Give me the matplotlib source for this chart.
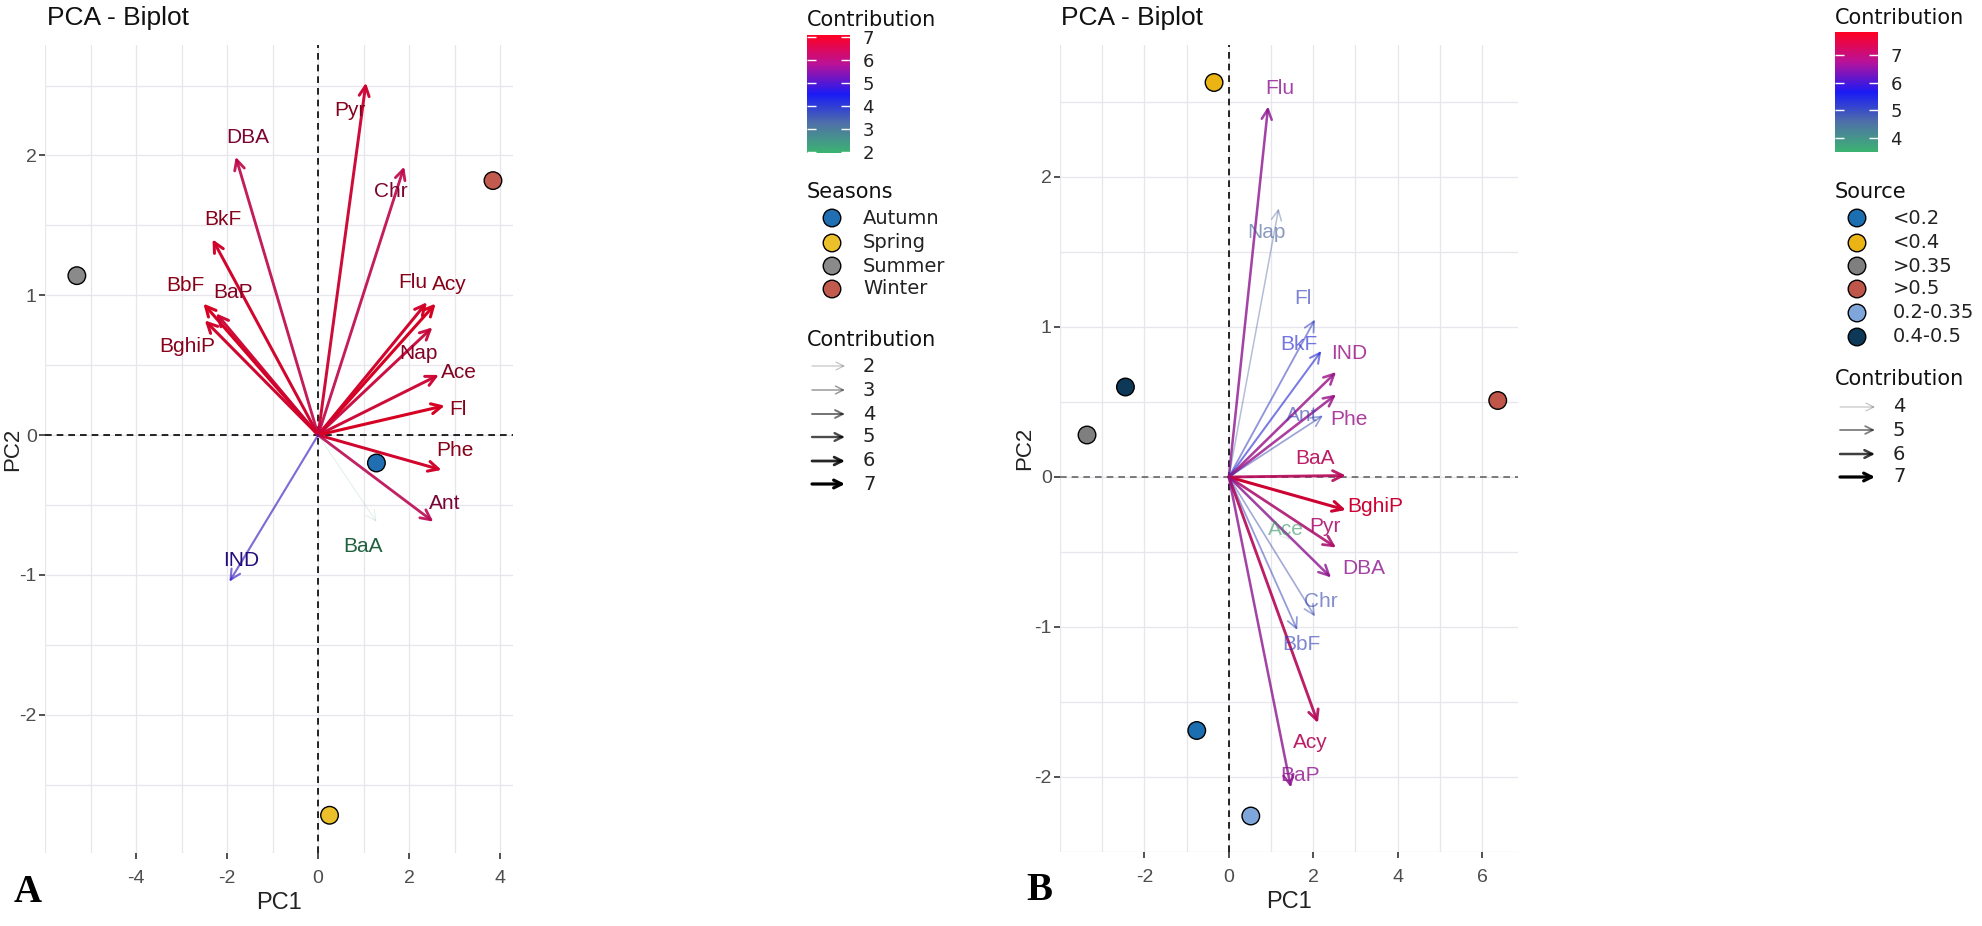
import numpy as np
import matplotlib
matplotlib.use('Agg')
import matplotlib.pyplot as plt
from matplotlib.colors import LinearSegmentedColormap, Normalize
from matplotlib.patches import FancyArrowPatch
import matplotlib.colorbar as mcolorbar

W, H = 1982, 926

# ---- panel A : seasons ----
varsA = ['Pyr', 'DBA', 'Chr', 'BkF', 'BbF', 'BaP', 'BghiP', 'Flu', 'Acy', 'Nap', 'Ace', 'Fl', 'Phe', 'Ant', 'BaA', 'IND']
pc1A = [1.05, -1.81, 1.89, -2.32, -2.52, -2.24, -2.49, 2.39, 2.58, 2.51, 2.65, 2.78, 2.71, 2.53, 1.28, -1.95]
pc2A = [2.52, 1.99, 1.92, 1.40, 0.94, 0.87, 0.82, 0.95, 0.94, 0.77, 0.43, 0.21, -0.25, -0.62, -0.62, -1.05]
contribA = [6.8, 6.5, 6.5, 6.9, 7.0, 6.8, 6.9, 6.9, 7.0, 6.7, 6.8, 7.0, 6.9, 6.4, 2.0, 4.8]
labxA = [0.70, -1.54, 1.60, -2.09, -2.92, -1.88, -2.88, 2.08, 2.89, 2.21, 3.10, 3.07, 3.01, 2.77, 0.99, -1.68]
labyA = [2.32, 2.13, 1.74, 1.54, 1.07, 1.02, 0.63, 1.09, 1.08, 0.58, 0.45, 0.18, -0.11, -0.49, -0.80, -0.90]

seasons = ['Autumn', 'Spring', 'Summer', 'Winter']
season_pc1 = [1.28, 0.25, -5.30, 3.84]
season_pc2 = [-0.20, -2.72, 1.14, 1.82]
season_cols = ['#1f6fb2', '#ecc02a', '#8a8a8a', '#c25a4e']

# ---- panel B : sources ----
varsB = ['Flu', 'Nap', 'Fl', 'BkF', 'IND', 'Phe', 'Ant', 'BaA', 'BghiP', 'Pyr', 'Ace', 'DBA', 'Chr', 'BbF', 'Acy', 'BaP']
pc1B = [0.93, 1.18, 2.04, 2.19, 2.54, 2.54, 2.23, 2.77, 2.77, 2.54, 1.45, 2.42, 2.04, 1.62, 2.11, 1.47]
pc2B = [2.47, 1.79, 1.05, 0.84, 0.70, 0.55, 0.41, 0.01, -0.22, -0.47, -0.42, -0.67, -0.93, -1.02, -1.64, -2.07]
contribB = [6.6, 4.7, 5.3, 5.6, 6.7, 6.7, 5.1, 7.2, 7.6, 7.0, 3.6, 6.6, 5.0, 5.2, 7.2, 6.6]
labxB = [1.21, 0.89, 1.75, 1.65, 2.84, 2.84, 1.73, 2.04, 3.47, 2.27, 1.34, 3.20, 2.19, 1.71, 1.92, 1.69]
labyB = [2.59, 1.63, 1.19, 0.88, 0.82, 0.38, 0.41, 0.12, -0.20, -0.33, -0.35, -0.61, -0.83, -1.12, -1.77, -1.99]

sources = ['<0.2', '<0.4', '>0.35', '>0.5', '0.2-0.35', '0.4-0.5']
source_pc1 = [-0.76, -0.35, -3.36, 6.37, 0.52, -2.45]
source_pc2 = [-1.69, 2.63, 0.28, 0.51, -2.26, 0.60]
source_cols = ['#1b6fb0', '#eab414', '#7f7f7f', '#c0554a', '#7fa6da', '#0d3858']

cmap = LinearSegmentedColormap.from_list(
    'contrib', ['#3cb371', '#4f70a8', '#1a1af5', '#b8129a', '#ff0022'])

plt.rcParams['font.family'] = ['Liberation Sans', 'DejaVu Sans']
plt.rcParams['axes.unicode_minus'] = False
LEGFONT = 'DejaVu Sans'

fig = plt.figure(figsize=(W / 100, H / 100), dpi=100)


def px_axes(x0, y0, x1, y1):
    return fig.add_axes([x0 / W, 1 - y1 / H, (x1 - x0) / W, (y1 - y0) / H])


def biplot(ax, xlim, ylim, xmaj, ymaj, names, px, py, contrib, lx, ly, crange,
           lrange, pts_x, pts_y, pts_c, dark_labels, hdash_col, ylab_x):
    ax.set_xlim(*xlim)
    ax.set_ylim(*ylim)
    ax.set_xticks(xmaj)
    ax.set_yticks(ymaj)
    ax.set_xticks(np.arange(np.floor(xlim[0]), xlim[1], 1.0), minor=True)
    ax.set_yticks(np.arange(np.floor(ylim[0]) + 0.5, ylim[1], 1.0), minor=True)
    ax.grid(which='both', color='#e6e6ec', lw=0.9)
    ax.set_axisbelow(True)
    for s in ax.spines.values():
        s.set_visible(False)
    ax.tick_params(which='major', length=4, color='#333333', labelcolor='#4d4d4d',
                   labelsize=14, width=1.2)
    ax.tick_params(axis='x', pad=8)
    ax.tick_params(axis='y', pad=2)
    ax.tick_params(which='minor', length=0)
    ax.axhline(0, color=hdash_col, ls=(0, (4, 3)), lw=1.2, zorder=1)
    ax.axvline(0, color='black', ls=(0, (4, 3)), lw=1.2, zorder=1)
    ax.set_xlabel('PC1', fontsize=17, color='#222222', labelpad=4)
    ax.set_ylabel('PC2', fontsize=16, color='#222222')
    ax.yaxis.set_label_coords(ylab_x, 0.5)

    norm = Normalize(*crange)
    lo, hi = lrange
    for n, x, y, c, tx, ty in zip(names, px, py, contrib, lx, ly):
        col = cmap(norm(c))
        acol = tuple(np.array(col[:3]) * 0.85)
        f = np.clip((c - lo) / (hi - lo), 0, 1)
        alpha = 0.15 + 0.85 * f
        lw = 0.7 + 1.5 * f
        arr = FancyArrowPatch((0, 0), (x, y), arrowstyle='->', mutation_scale=18,
                              color=acol, alpha=alpha, lw=lw, shrinkA=0, shrinkB=0,
                              zorder=3)
        ax.add_patch(arr)
        if dark_labels:
            tcol = tuple(np.array(col[:3]) * 0.55)
            talpha = 1.0
        else:
            tcol = acol
            talpha = max(0.6, alpha)
        ax.text(tx, ty, n, color=tcol, alpha=talpha, fontsize=15, ha='center',
                va='center', zorder=4)

    ax.scatter(pts_x, pts_y, s=160, c=pts_c, edgecolors='black', linewidths=1.0,
               zorder=5)


axA = px_axes(45, 45, 513, 853)
biplot(axA, (-5.78, 4.28), (-2.99, 2.79), [-4, -2, 0, 2, 4], [-2, -1, 0, 1, 2],
       varsA, pc1A, pc2A, contribA, labxA, labyA, (1.96, 7.08), (2, 7),
       season_pc1, season_pc2, season_cols, True, 'black', -0.046)

axB = px_axes(1060, 45, 1518, 852)
biplot(axB, (-3.83, 6.85), (-2.49, 2.88), [-2, 0, 2, 4, 6], [-2, -1, 0, 1, 2],
       varsB, pc1B, pc2B, contribB, labxB, labyB, (3.5, 7.83), (3.6, 7.6),
       source_pc1, source_pc2, source_cols, False, '#666666', -0.055)

fig.text(47 / W, 1 - 18 / H, 'PCA - Biplot', fontsize=19, va='center', color='#111111')
fig.text(1061 / W, 1 - 18 / H, 'PCA - Biplot', fontsize=19, va='center', color='#111111')
fig.text(28 / W, 1 - 893 / H, 'A', fontsize=28, fontweight='bold',
         family='Liberation Serif', va='center', ha='center')
fig.text(1039 / W, 1 - 891 / H, 'B', fontsize=28, fontweight='bold',
         family='Liberation Serif', va='center', ha='center')


def colorbar(x0, y0, x1, y1, vmin, vmax, ticks):
    cax = px_axes(x0, y0, x1, y1)
    cb = mcolorbar.ColorbarBase(cax, cmap=cmap, norm=Normalize(vmin, vmax),
                                orientation='vertical')
    cb.outline.set_visible(False)
    cb.set_ticks(ticks)
    cax.tick_params(length=0, labelsize=13, pad=9)
    for lab in cax.get_yticklabels():
        lab.set_family(LEGFONT)
        lab.set_color('#222222')
    for t in ticks:
        cax.hlines(t, 0, 0.2, colors='white', lw=1)
        cax.hlines(t, 0.8, 1, colors='white', lw=1)


colorbar(807, 35, 850, 153, 1.96, 7.08, [2, 3, 4, 5, 6, 7])
colorbar(1835, 32, 1878, 152, 3.5, 7.83, [4, 5, 6, 7])

ov = fig.add_axes([0, 0, 1, 1])
ov.set_xlim(0, W)
ov.set_ylim(H, 0)
ov.axis('off')


def key_points(x, title, title_y, ys, labels, cols, mx, tx):
    ov.text(x, title_y, title, fontsize=15, family=LEGFONT, va='center', color='#111111')
    ov.scatter([mx] * len(ys), ys, s=160, c=cols, edgecolors='black', linewidths=1.0)
    for y, l in zip(ys, labels):
        ov.text(tx, y, l, fontsize=14, family=LEGFONT, va='center', color='#222222')


def key_arrows(x, title_y, ys, vals, lo, hi, ax0, ax1, tx):
    ov.text(x, title_y, 'Contribution', fontsize=15, family=LEGFONT, va='center',
            color='#111111')
    for y, v in zip(ys, vals):
        f = (v - lo) / (hi - lo)
        arr = FancyArrowPatch((ax0, y), (ax1, y), arrowstyle='->', mutation_scale=14,
                              color='black', alpha=0.25 + 0.75 * f, lw=0.8 + 1.5 * f,
                              shrinkA=0, shrinkB=0)
        ov.add_patch(arr)
        ov.text(tx, y, str(v), fontsize=14, family=LEGFONT, va='center', color='#222222')


# panel A legends
ov.text(807, 20, 'Contribution', fontsize=15, family=LEGFONT, va='center', color='#111111')
key_points(807, 'Seasons', 192, [218, 243, 266, 289], seasons, season_cols, 832, 863)
key_arrows(807, 340, [366, 390, 414, 437, 461, 484], [2, 3, 4, 5, 6, 7], 2, 7, 812, 845, 863)

# panel B legends
ov.text(1835, 18, 'Contribution', fontsize=15, family=LEGFONT, va='center', color='#111111')
key_points(1835, 'Source', 192, [218, 243, 266, 289, 313, 337], sources, source_cols,
           1857, 1893)
key_arrows(1835, 379, [407, 430, 454, 477], [4, 5, 6, 7], 4, 7, 1840, 1875, 1893)

fig.savefig('out.png', dpi=100)
